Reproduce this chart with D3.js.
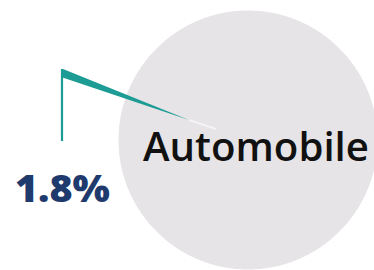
<!DOCTYPE html>
<html>
<head>
<meta charset="utf-8">
<script src="https://cdn.jsdelivr.net/npm/d3@7"></script>
<style>
  body { margin: 0; background: #fff; }
  svg { display: block; }
</style>
</head>
<body>
<script>
'use strict';

let categories = ["Automobile", "Other"];
let values = [98.2, 1.8];
let shareLabel = "1.8%";

let width = 374;
let height = 270;

let svgContainer = d3.select('body')
  .append('svg')
  .attr('width', width)
  .attr('height', height);

// pie (both slices same grey, no visible seam)
let pie = d3.pie().sort(null).startAngle(-0.3).endAngle(2 * Math.PI - 0.3);
let arcs = pie(values);
let arc = d3.arc().innerRadius(0).outerRadius(129);

svgContainer.append('g')
  .attr('transform', 'translate(248,140)')
  .selectAll('path')
  .data(arcs)
  .enter()
  .append('path')
  .attr('d', arc)
  .attr('fill', '#e6e4e6')
  .attr('stroke', '#e6e4e6')
  .attr('stroke-width', 1);

// callout wedge + leader
svgContainer.append('polygon')
  .attr('points', '61,69 63,69 189,120 61,77')
  .attr('fill', '#1c9c94');
svgContainer.append('line')
  .attr('x1', 189).attr('y1', 120)
  .attr('x2', 216).attr('y2', 129)
  .attr('stroke', '#f6f6f8')
  .attr('stroke-width', 1.5);
svgContainer.append('line')
  .attr('x1', 62).attr('y1', 70)
  .attr('x2', 62).attr('y2', 141)
  .attr('stroke', '#1c9c94')
  .attr('stroke-width', 2.2);

svgContainer.append('text')
  .attr('x', 143)
  .attr('y', 161)
  .attr('font-family', 'Open Sans')
  .attr('font-weight', 600)
  .attr('font-size', '39px')
  .attr('textLength', 226)
  .attr('lengthAdjust', 'spacingAndGlyphs')
  .attr('fill', '#111')
  .text(categories[0]);

svgContainer.append('text')
  .attr('x', 15)
  .attr('y', 202)
  .attr('font-family', 'Open Sans')
  .attr('font-weight', 800)
  .attr('font-size', '37px')
  .attr('textLength', 95)
  .attr('lengthAdjust', 'spacingAndGlyphs')
  .attr('fill', '#1f3a6d')
  .text(shareLabel);
</script>
</body>
</html>
